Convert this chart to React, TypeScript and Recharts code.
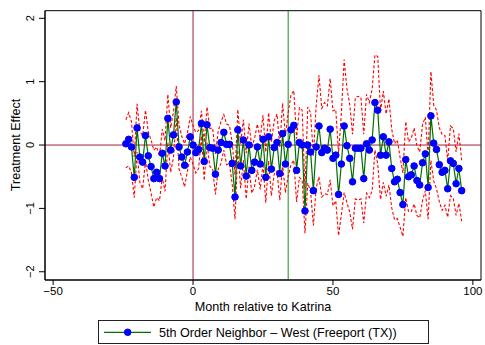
import React from 'react';
import { LineChart, Line, XAxis, YAxis, ReferenceLine, ReferenceArea, Customized } from 'recharts';

const months = [
  -24, -23, -22, -21, -20, -19, -18, -17, -16, -15, -14, -13, -12, -11, -10, -9, -8, -7, -6, -5, -4, -3, -2, -1,
  0, 1, 2, 3, 4, 5, 6, 7, 8, 9, 10, 11, 12, 13, 14, 15, 16, 17, 18, 19, 20, 21, 22, 23, 24, 25, 26, 27, 28, 29,
  30, 31, 32, 33, 34, 35, 36, 37, 38, 39, 40, 41, 42, 43, 44, 45, 46, 47, 48, 49, 50, 51, 52, 53, 54, 55, 56, 57,
  58, 59, 60, 61, 62, 63, 64, 65, 66, 67, 68, 69, 70, 71, 72, 73, 74, 75, 76, 77, 78, 79, 80, 81, 82, 83, 84, 85,
  86, 87, 88, 89, 90, 91, 92, 93, 94, 95, 96,
];

const effect = [
  0.02, 0.09, -0.03, -0.51, 0.27, -0.19, -0.27, 0.15, -0.17, -0.34, -0.53, -0.43, -0.53, -0.13, -0.33, 0.42, -0.08, 0.16, 0.68, -0.03, -0.19, -0.32, -0.11, 0.13,
  0.0, -0.12, -0.07, 0.34, -0.26, 0.32, -0.04, -0.05, -0.46, -0.08, 0.04, 0.2, 0.01, 0.01, -0.29, -0.82, 0.24, -0.33, 0.08, -0.49, 0.0, -0.4, -0.27, -0.03, -0.3, 0.09, -0.51, 0.13, -0.38, -0.04,
  0.04, -0.45, 0.18, -0.3, 0.01, 0.24, 0.31, -0.4, 0.04, 0.0, -1.04, 0.0, -0.11, -0.72, -0.03, 0.3, -0.12, -0.05, -0.08, 0.25, -0.21, -0.16, -0.78, -0.3, 0.3, -0.01, -0.21, -0.58,
  -0.05, -0.05, -0.05, -0.53, 0.02, -0.08, 0.08, 0.67, 0.55, -0.16, 0.13, -0.16, 0.05, -0.37, -0.58, -0.54, -0.75, -0.94, -0.23, -0.5, -0.47, -0.33, -0.56, -0.63, -0.28, -0.14, -0.67, 0.46,
  0.03, -0.07, -0.31, -0.43, -0.4, -0.69, -0.25, -0.29, -0.61, -0.37, -0.72,
];

const ciUpper = [
  0.4, 0.51, 0.37, -0.19, 0.65, 0.21, 0.15, 0.55, 0.21, 0.08, -0.08, -0.03, -0.18, 0.25, 0.07, 0.8, 0.27, 0.52, 0.93, 0.32, 0.13, 0.02, 0.19, 0.45,
  0.3, 0.2, 0.23, 0.54, 0.04, 0.6, 0.26, 0.27, -0.14, 0.22, 0.37, 0.48, 0.33, 0.31, 0.04, -0.47, 0.56, 0.02, 0.4, -0.13, 0.34, -0.04, 0.11, 0.33, 0.1, 0.47, -0.11, 0.51, 0.04, 0.38,
  0.49, -0.03, 0.66, 0.15, 0.51, 0.79, 0.86, 0.1, 0.59, 0.55, -0.69, 0.6, 0.51, -0.17, 0.62, 1.1, 0.58, 0.67, 0.62, 1.05, 0.54, 0.56, -0.13, 0.5, 1.35, 0.89, 0.64, 0.17,
  0.75, 0.77, 0.75, 0.17, 0.8, 0.67, 0.88, 1.42, 1.4, 0.54, 0.85, 0.49, 0.73, 0.25, 0.02, 0.08, -0.2, -0.44, 0.37, 0.05, 0.11, 0.27, -0.01, -0.11, 0.32, 0.44, -0.17, 1.16,
  0.63, 0.55, 0.27, 0.17, 0.15, -0.24, 0.3, 0.26, -0.11, 0.18, -0.24,
];

const ciLower = [
  -0.36, -0.33, -0.43, -0.83, -0.11, -0.59, -0.69, -0.25, -0.55, -0.76, -0.98, -0.83, -0.88, -0.51, -0.73, 0.04, -0.43, -0.2, 0.43, -0.38, -0.51, -0.66, -0.41, -0.19,
  -0.3, -0.44, -0.37, 0.14, -0.56, 0.04, -0.34, -0.37, -0.78, -0.38, -0.29, -0.08, -0.31, -0.29, -0.62, -1.17, -0.08, -0.68, -0.24, -0.85, -0.34, -0.76, -0.65, -0.39, -0.7, -0.29, -0.91, -0.25, -0.8, -0.46,
  -0.41, -0.87, -0.3, -0.75, -0.49, -0.31, -0.24, -0.9, -0.51, -0.55, -1.39, -0.6, -0.73, -1.27, -0.68, -0.5, -0.82, -0.77, -0.78, -0.55, -0.96, -0.88, -1.43, -1.1, -0.75, -0.91, -1.06, -1.33,
  -0.85, -0.87, -0.85, -1.23, -0.76, -0.83, -0.72, -0.08, -0.3, -0.86, -0.59, -0.81, -0.63, -0.99, -1.18, -1.16, -1.3, -1.44, -0.83, -1.05, -1.05, -0.93, -1.11, -1.15, -0.88, -0.72, -1.17, -0.24,
  -0.57, -0.69, -0.89, -1.03, -0.95, -1.14, -0.8, -0.84, -1.11, -0.92, -1.2,
];

const xTicks = [-50, 0, 50, 100];
const yTicks = [-2, -1, 0, 1, 2];
const xDomain = [-52.9, 102.9];
const yDomain = [-2.13, 2.12];
const katrinaMonth = 0;
const secondEventMonth = 34;
const xTitle = 'Month relative to Katrina';
const yTitle = 'Treatment Effect';
const legendLabel = '5th Order Neighbor \u2013 West (Freeport (TX))';

const FONT = '"Liberation Sans", Arial, Helvetica, sans-serif';
const GREEN = '#006e00';
const BLUE = '#0000ff';
const RED = '#ff0000';
const MAROON = '#a0203c';
const VGREEN = '#1b8f1b';

const rows = months.map((m, i) => ({ m, effect: effect[i], hi: ciUpper[i], lo: ciLower[i] }));

const fmt = (v: number) => String(v).replace('-', '\u2212');

const YTick = (props: any) => {
  const { x, y, payload } = props;
  return (
    <text
      x={x}
      y={y}
      transform={`rotate(-90, ${x}, ${y})`}
      textAnchor="middle"
      fontSize={11}
      fill="#000"
      fontFamily={FONT}
    >
      {fmt(payload.value)}
    </text>
  );
};

const Extras = () => (
  <g fontFamily={FONT} fill="#000">
    <text x={263} y={310.7} textAnchor="middle" fontSize={12.6}>
      {xTitle}
    </text>
    <text x={20} y={145} textAnchor="middle" fontSize={12.6} transform="rotate(-90, 20, 145)">
      {yTitle}
    </text>
    <rect x={98.5} y={320.5} width={330} height={23} fill="#fff" stroke="#222" strokeWidth={1} />
    <line x1={104} y1={332.3} x2={151} y2={332.3} stroke={GREEN} strokeWidth={1.2} />
    <circle cx={127.7} cy={332.3} r={3.3} fill={BLUE} stroke={BLUE} />
    <text x={159} y={337} fontSize={12.6}>
      {legendLabel}
    </text>
  </g>
);

export default function App() {
  return (
    <div style={{ position: 'absolute', left: 0, top: 0, width: 485, height: 345, background: '#fff' }}>
      <LineChart width={485} height={345} data={rows} margin={{ top: 10.7, right: 4, left: 0, bottom: 29 }}>
        <XAxis
          dataKey="m"
          type="number"
          domain={xDomain}
          ticks={xTicks}
          allowDataOverflow
          height={36}
          tickSize={5}
          tickMargin={2}
          tickFormatter={fmt}
          stroke="#000"
          tick={{ fontSize: 11.5, fill: '#000', fontFamily: FONT }}
        />
        <YAxis
          type="number"
          domain={yDomain}
          ticks={yTicks}
          allowDataOverflow
          width={45}
          tickSize={6}
          tickMargin={5}
          stroke="#000"
          tick={<YTick />}
        />
        <ReferenceArea
          x1={xDomain[0]}
          x2={xDomain[1]}
          y1={yDomain[0]}
          y2={yDomain[1]}
          fill="none"
          fillOpacity={0}
          stroke="#000"
          strokeWidth={1}
        />
        <ReferenceLine y={0} stroke={MAROON} strokeWidth={1} />
        <ReferenceLine x={katrinaMonth} stroke={MAROON} strokeWidth={1} />
        <ReferenceLine x={secondEventMonth} stroke={VGREEN} strokeWidth={1} />
        <Line
          dataKey="hi"
          stroke={RED}
          strokeWidth={1.1}
          strokeDasharray="3 2"
          dot={false}
          activeDot={false}
          isAnimationActive={false}
          type="linear"
        />
        <Line
          dataKey="lo"
          stroke={RED}
          strokeWidth={1.1}
          strokeDasharray="3 2"
          dot={false}
          activeDot={false}
          isAnimationActive={false}
          type="linear"
        />
        <Line
          dataKey="effect"
          stroke={GREEN}
          strokeWidth={1.2}
          dot={{ r: 3.3, fill: BLUE, stroke: BLUE, strokeWidth: 1 }}
          activeDot={false}
          isAnimationActive={false}
          type="linear"
        />
        <Customized component={Extras} />
      </LineChart>
    </div>
  );
}
